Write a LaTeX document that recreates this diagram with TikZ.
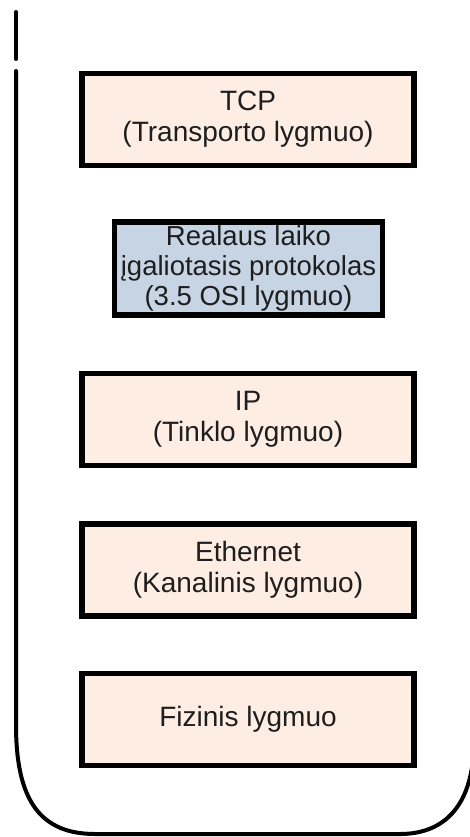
\documentclass[tikz,border=0pt]{standalone}
\usepackage{fontspec}
\setmainfont{Liberation Sans}
\definecolor{peach}{HTML}{FDEDE3}
\definecolor{bluegray}{HTML}{C6D4E4}
\definecolor{txt}{HTML}{1E1E1E}
\begin{document}
\begin{tikzpicture}[x=1pt,y=-1pt,
  layer/.style={draw=black, line width=5.5pt, fill=peach, rectangle, inner sep=0pt,
    minimum width=332pt, minimum height=92pt, align=center, text=txt,
    font=\fontsize{28}{31}\selectfont},
  rtlayer/.style={layer, fill=bluegray, minimum width=268pt, minimum height=93pt,
    font=\fontsize{27.5}{30}\selectfont},
  outline/.style={line width=4pt, line cap=round, draw=black}]
\useasboundingbox (0,0) rectangle (470,837);
\clip (0,0) rectangle (470,837);
\coordinate (d1) at (16,12);
\coordinate (d2) at (16,59);
\draw[outline] (d1) -- (d2);
\draw[outline] (16,71) -- (16,725) .. controls (16,800) and (40,834) .. (95,834)
  -- (400,834) .. controls (445,834) and (474,805) .. (474,740) -- (474,0);
\node[layer] (tcp) at (248,119.5) {TCP\\(Transporto lygmuo)};
\node[rtlayer] (rt) at (248.5,268.5) {Realaus laiko\\įgaliotasis protokolas\\(3.5 OSI lygmuo)};
\node[layer] (ip) at (248,419.5) {IP\\(Tinklo lygmuo)};
\node[layer] (eth) at (248,570) {Ethernet\\(Kanalinis lygmuo)};
\node[layer] (fiz) at (248,719.5) {Fizinis lygmuo};
\end{tikzpicture}
\end{document}
